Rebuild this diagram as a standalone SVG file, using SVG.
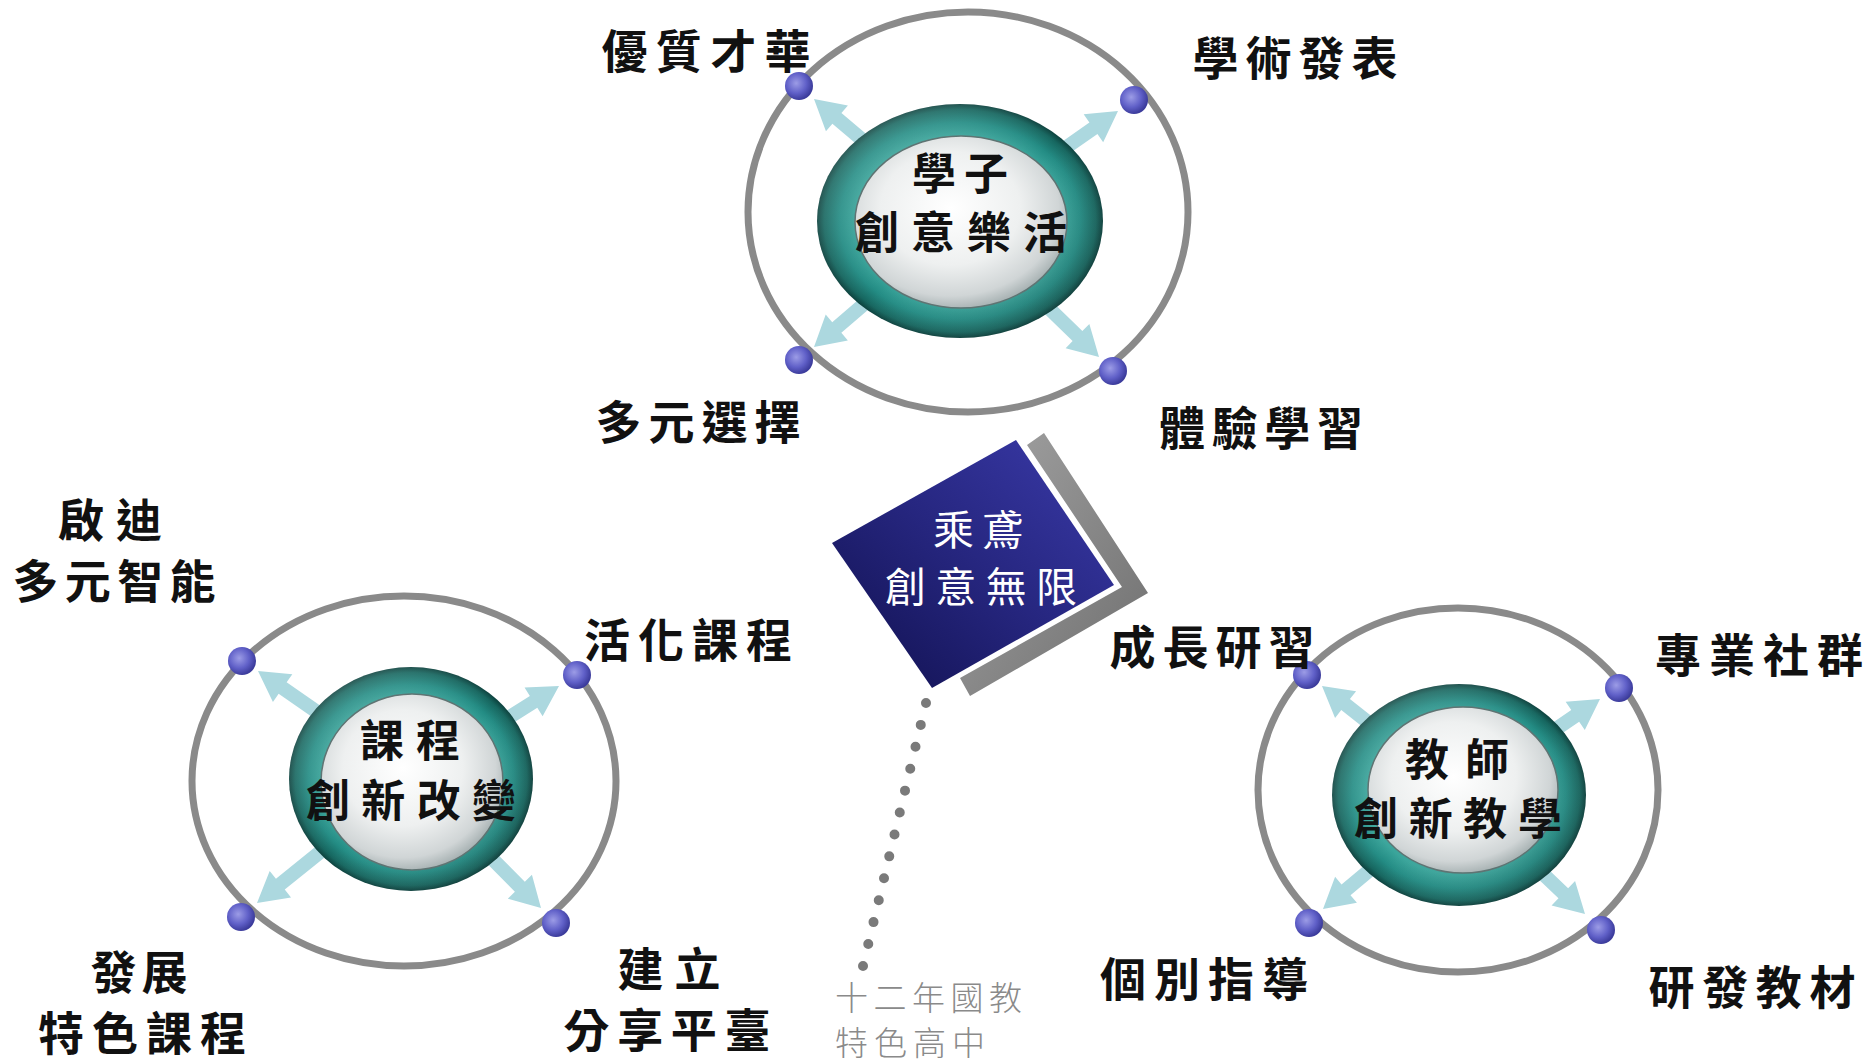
<svg xmlns="http://www.w3.org/2000/svg" xmlns:xlink="http://www.w3.org/1999/xlink" width="1870" height="1063" viewBox="0 0 1870 1063">
<defs>
<style>
.orbit{fill:none;stroke:#8a8a8a;stroke-width:7}
.ring{fill:url(#ringGrad)}
.ringHi{fill:url(#ringHi)}
.disk{fill:url(#diskGrad);stroke:#5f7473;stroke-width:1.5}
.dot{fill:url(#dotGrad)}
.lbl{font-family:"Noto Sans CJK TC","Noto Sans CJK SC",sans-serif;font-weight:700;font-size:46px;fill:#111;text-anchor:middle;dominant-baseline:central}
.hub{font-family:"Noto Sans CJK TC","Noto Sans CJK SC",sans-serif;font-weight:700;font-size:44px;fill:#111;text-anchor:middle;dominant-baseline:central}
.ctr{font-family:"Noto Sans CJK TC","Noto Sans CJK SC",sans-serif;font-weight:400;font-size:41px;fill:#ffffff;text-anchor:middle;dominant-baseline:central}
.note{font-family:"Noto Sans CJK TC","Noto Sans CJK SC",sans-serif;font-weight:300;font-size:33px;fill:#8a8a8a;dominant-baseline:central}
.arrow{fill:#acd8df}
</style>
<radialGradient id="ringGrad" cx="0.5" cy="0.5" r="0.5">
<stop offset="0.72" stop-color="#3aa59b"/>
<stop offset="0.84" stop-color="#238c84"/>
<stop offset="0.95" stop-color="#16665f"/>
<stop offset="1" stop-color="#0b403c"/>
</radialGradient>
<linearGradient id="ringHi" x1="0" y1="0" x2="1" y2="1">
<stop offset="0" stop-color="#ffffff" stop-opacity="0.2"/>
<stop offset="0.5" stop-color="#ffffff" stop-opacity="0"/>
<stop offset="1" stop-color="#000000" stop-opacity="0.18"/>
</linearGradient>
<radialGradient id="diskGrad" cx="0.45" cy="0.42" r="0.6">
<stop offset="0" stop-color="#ffffff"/>
<stop offset="0.55" stop-color="#eef0f0"/>
<stop offset="0.85" stop-color="#d0d5d6"/>
<stop offset="1" stop-color="#a3aeaf"/>
</radialGradient>
<radialGradient id="dotGrad" cx="0.4" cy="0.4" r="0.6">
<stop offset="0" stop-color="#9c9ce6"/>
<stop offset="0.6" stop-color="#6060c8"/>
<stop offset="1" stop-color="#3c3c9c"/>
</radialGradient>
<linearGradient id="blueGrad" x1="0" y1="1" x2="1" y2="0">
<stop offset="0" stop-color="#10104e"/>
<stop offset="0.5" stop-color="#26267f"/>
<stop offset="1" stop-color="#3b3bab"/>
</linearGradient>
<linearGradient id="grayGrad" x1="0" y1="0" x2="1" y2="1">
<stop offset="0" stop-color="#a4a4a4"/>
<stop offset="1" stop-color="#6e6e6e"/>
</linearGradient>
<path id="arr" d="M0,0 L-30,-17 L-30,-7 L-90,-7 L-90,7 L-30,7 L-30,17 Z"/>
</defs>
<rect width="1870" height="1063" fill="#ffffff"/>

<g id="connectors">
<use xlink:href="#arr" class="arrow" transform="translate(814,99) rotate(-139.8)"/>
<use xlink:href="#arr" class="arrow" transform="translate(1118,111) rotate(-35)"/>
<use xlink:href="#arr" class="arrow" transform="translate(814,347) rotate(139.4)"/>
<use xlink:href="#arr" class="arrow" transform="translate(1099,357) rotate(44.2)"/>
<use xlink:href="#arr" class="arrow" transform="translate(258,671) rotate(-145.2)"/>
<use xlink:href="#arr" class="arrow" transform="translate(559,686) rotate(-32.1)"/>
<use xlink:href="#arr" class="arrow" transform="translate(257,903) rotate(141.1)"/>
<use xlink:href="#arr" class="arrow" transform="translate(541,908) rotate(45.2)"/>
<use xlink:href="#arr" class="arrow" transform="translate(1322,686) rotate(-141.8)"/>
<use xlink:href="#arr" class="arrow" transform="translate(1600,699) rotate(-34.3)"/>
<use xlink:href="#arr" class="arrow" transform="translate(1323,909) rotate(140.1)"/>
<use xlink:href="#arr" class="arrow" transform="translate(1585,914) rotate(43.7)"/>
<line x1="926" y1="703" x2="863" y2="966" stroke="#7a7a7a" stroke-width="10" stroke-linecap="round" stroke-dasharray="0 22.53"/>
</g>

<g id="hub-students">
<ellipse class="orbit" cx="968" cy="212" rx="220" ry="200"/>
<ellipse class="ring" cx="960" cy="221" rx="143" ry="117"/>
<ellipse class="ringHi" cx="960" cy="221" rx="143" ry="117"/>
<ellipse class="disk" cx="961" cy="222" rx="106" ry="86"/>
<text class="hub"><tspan x="960" y="171" textLength="96" lengthAdjust="spacing">學子</tspan><tspan x="961" y="230" textLength="212" lengthAdjust="spacing">創意樂活</tspan></text>
<circle class="dot" cx="799" cy="86" r="14"/>
<circle class="dot" cx="1134" cy="100" r="14"/>
<circle class="dot" cx="799" cy="360" r="14"/>
<circle class="dot" cx="1113" cy="371" r="14"/>
</g>

<g id="hub-curriculum">
<ellipse class="orbit" cx="404" cy="781" rx="212" ry="185"/>
<ellipse class="ring" cx="411" cy="779" rx="122" ry="112"/>
<ellipse class="ringHi" cx="411" cy="779" rx="122" ry="112"/>
<ellipse class="disk" cx="412" cy="782" rx="91" ry="88"/>
<text class="hub"><tspan x="410" y="738" textLength="100" lengthAdjust="spacing">課程</tspan><tspan x="411" y="798" textLength="210" lengthAdjust="spacing">創新改變</tspan></text>
<circle class="dot" cx="242" cy="661" r="14"/>
<circle class="dot" cx="577" cy="675" r="14"/>
<circle class="dot" cx="241" cy="917" r="14"/>
<circle class="dot" cx="556" cy="923" r="14"/>
</g>

<g id="hub-teachers">
<ellipse class="orbit" cx="1458" cy="790" rx="200" ry="182"/>
<ellipse class="ring" cx="1459" cy="795" rx="127" ry="111"/>
<ellipse class="ringHi" cx="1459" cy="795" rx="127" ry="111"/>
<ellipse class="disk" cx="1463" cy="790" rx="95" ry="83"/>
<text class="hub"><tspan x="1457" y="757" textLength="104" lengthAdjust="spacing">教師</tspan><tspan x="1458" y="816" textLength="208" lengthAdjust="spacing">創新教學</tspan></text>
<circle class="dot" cx="1307" cy="675" r="14"/>
<circle class="dot" cx="1619" cy="688" r="14"/>
<circle class="dot" cx="1309" cy="923" r="14"/>
<circle class="dot" cx="1601" cy="930" r="14"/>
</g>

<g id="center">
<polygon points="1027,445 1044,433 1148,593 970,696 960,678 1122,587" fill="url(#grayGrad)"/>
<polygon points="1016,440 1114,585 932,688 832,543" fill="url(#blueGrad)"/>
<text class="ctr"><tspan x="978" y="527" textLength="90" lengthAdjust="spacing">乘鳶</tspan><tspan x="981" y="584" textLength="192" lengthAdjust="spacing">創意無限</tspan></text>
</g>

<g id="note">
<text class="note"><tspan x="835" y="996" textLength="187" lengthAdjust="spacing">十二年國教</tspan><tspan x="835" y="1041" textLength="150" lengthAdjust="spacing">特色高中</tspan></text>
</g>

<g id="label-1"><text class="lbl" x="706" y="48" textLength="209" lengthAdjust="spacing">優質才華</text></g>
<g id="label-2"><text class="lbl" x="1295" y="55" textLength="205" lengthAdjust="spacing">學術發表</text></g>
<g id="label-3"><text class="lbl" x="698" y="419" textLength="205" lengthAdjust="spacing">多元選擇</text></g>
<g id="label-4"><text class="lbl" x="1261" y="425" textLength="204" lengthAdjust="spacing">體驗學習</text></g>
<g id="label-5"><text class="lbl"><tspan x="110" y="517" textLength="104" lengthAdjust="spacing">啟迪</tspan><tspan x="114" y="578" textLength="203" lengthAdjust="spacing">多元智能</tspan></text></g>
<g id="label-6"><text class="lbl" x="688" y="637" textLength="208" lengthAdjust="spacing">活化課程</text></g>
<g id="label-7"><text class="lbl"><tspan x="139" y="969" textLength="97" lengthAdjust="spacing">發展</tspan><tspan x="142" y="1030" textLength="208" lengthAdjust="spacing">特色課程</tspan></text></g>
<g id="label-8"><text class="lbl"><tspan x="669" y="966" textLength="103" lengthAdjust="spacing">建立</tspan><tspan x="667" y="1027" textLength="207" lengthAdjust="spacing">分享平臺</tspan></text></g>
<g id="label-9"><text class="lbl" x="1212" y="644" textLength="205" lengthAdjust="spacing">成長研習</text></g>
<g id="label-10"><text class="lbl" x="1759" y="652" textLength="208" lengthAdjust="spacing">專業社群</text></g>
<g id="label-11"><text class="lbl" x="1204" y="976" textLength="208" lengthAdjust="spacing">個別指導</text></g>
<g id="label-12"><text class="lbl" x="1752" y="984" textLength="207" lengthAdjust="spacing">研發教材</text></g>
</svg>
